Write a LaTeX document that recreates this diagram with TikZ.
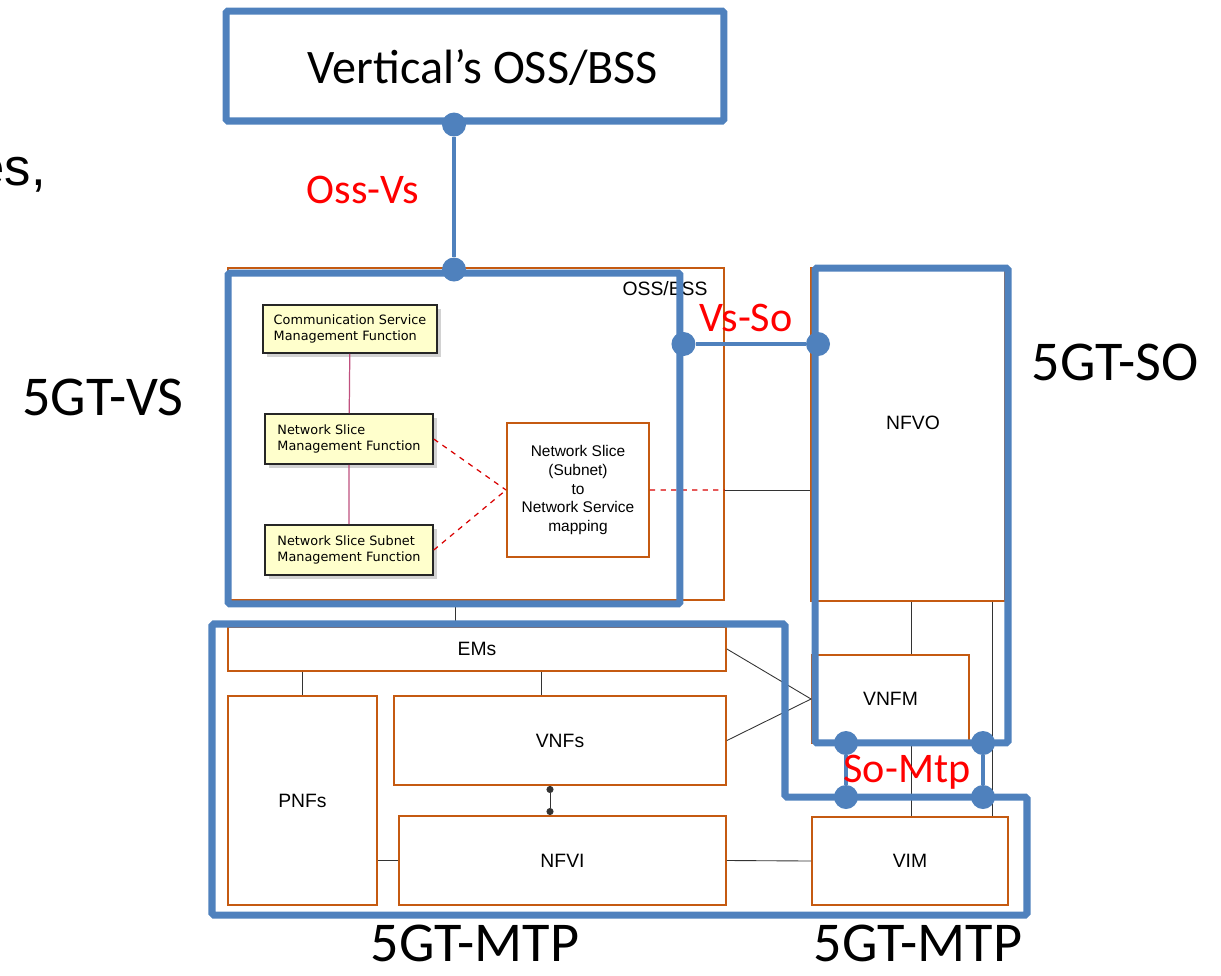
\documentclass[tikz,border=0pt]{standalone}
\usepackage{fontspec}
\setmainfont{Liberation Sans}
\newfontfamily\calibrifont{Carlito}
\newfontfamily\verdanafont{DejaVu Sans}
\usetikzlibrary{positioning, arrows.meta, shadows}
\definecolor{sliceblue}{HTML}{4F81BD}
\definecolor{etsiorange}{HTML}{C55A11}
\definecolor{notepink}{HTML}{C0507F}
\definecolor{noteyellow}{HTML}{FFFFCC}

\tikzset{
  fnbox/.style={draw=etsiorange, line width=1.1pt, fill=white, inner sep=0pt,
    font=\fontsize{11}{13}\selectfont},
  mgmtbox/.style={draw=black!85, line width=0.9pt, fill=noteyellow, inner sep=0pt,
    drop shadow={shadow xshift=2pt, shadow yshift=-2pt, fill=black!35},
    align=left, font=\verdanafont\fontsize{7.3}{9}\selectfont},
  gtdomain/.style={draw=sliceblue, line width=4pt, rounded corners=1pt, inner sep=0pt},
  iface/.style={draw=sliceblue, line width=2.8pt},
  ifdot/.style={circle, fill=sliceblue, inner sep=0pt, minimum size=0.48cm},
  iflabel/.style={text=red, font=\calibrifont\fontsize{24}{28}\selectfont},
  biglabel/.style={font=\calibrifont\fontsize{32}{36}\selectfont},
  wire/.style={draw=black!80, line width=0.5pt},
}

\begin{document}
\begin{tikzpicture}[x=0.02cm, y=-0.02cm]
  \useasboundingbox (0,0) rectangle (1221,975);

  % orange ETSI blocks
  \node[fnbox, minimum width=9.92cm, minimum height=6.64cm] (oss) at (476,434) {};
  \node[fnbox, minimum width=3.88cm, minimum height=6.66cm] (nfvo) at (908,434.5) {};
  \node at (913,423) {\fontsize{11}{13}\selectfont NFVO};
  \node[fnbox, minimum width=3.14cm, minimum height=1.76cm] (vnfm) at (890.5,699) {VNFM};
  \node[fnbox, minimum width=3.92cm, minimum height=1.76cm] (vim) at (910,861) {VIM};
  \node[fnbox, minimum width=9.96cm, minimum height=0.88cm] (ems) at (477,649) {EMs};
  \node[fnbox, minimum width=2.98cm, minimum height=4.18cm] (pnfs) at (302.5,800.5) {PNFs};
  \node[fnbox, minimum width=6.64cm, minimum height=1.78cm] (vnfs) at (560,740.5) {VNFs};
  \node[fnbox, minimum width=6.54cm, minimum height=1.78cm] (nfvi) at (562.5,860.5) {NFVI};
  \node[font=\fontsize{11}{13}\selectfont] (osslbl) at (665,289) {OSS/BSS};

  % slice management inside OSS/BSS
  \node[mgmtbox, minimum width=3.48cm, minimum height=0.96cm] (csmf) at (350,329)
    {Communication Service\\Management Function};
  \node[mgmtbox, minimum width=3.36cm, minimum height=1cm] (nsmf) at (349,439)
    {Network Slice\\Management Function};
  \node[mgmtbox, minimum width=3.36cm, minimum height=1cm] (nssmf) at (349,550)
    {Network Slice Subnet\\Management Function};
  \node[fnbox, minimum width=2.84cm, minimum height=2.68cm, align=center,
    font=\fontsize{8.8}{10.6}\selectfont] (map) at (578,490)
    {Network Slice\\(Subnet)\\to\\Network Service\\mapping};

  \draw[notepink, line width=0.7pt] (csmf) -- (nsmf) (nsmf) -- (nssmf);
  \draw[red!85!black, dashed, line width=0.7pt] (nsmf.east) -- (map.west)
    (nssmf.east) -- (map.west) (map.east) -- (oss.east |- map.east);
  \draw[wire] (oss.east |- map.east) -- (nfvo.west |- map.east);

  % reference points between blocks
  \draw[wire] (oss.south -| 455,0) -- (ems.north -| 455,0);
  \draw[wire] (pnfs.north |- ems.south) -- (pnfs.north);
  \draw[wire] ([xshift=-0.38cm]vnfs.north) -- ([xshift=-0.38cm]vnfs.north |- ems.south);
  \draw[wire, {Circle[length=4pt]}-{Circle[length=4pt]}] ([xshift=-0.2cm]vnfs.south)
    -- ([xshift=-0.2cm]vnfs.south |- nfvi.north);
  \draw[wire] (pnfs.east |- nfvi.west) -- (nfvi.west);
  \draw[wire] (nfvi.east) -- (vim.west);
  \draw[wire] (ems.east) -- (vnfm.west) -- (vnfs.east);
  \draw[wire] ([xshift=0.41cm]vnfm.north) -- ([xshift=0.41cm]vnfm.north |- nfvo.south);
  \draw[wire] ([xshift=0.41cm]vnfm.south) -- ([xshift=0.41cm]vnfm.south |- vim.north);
  \draw[wire] ([xshift=1.64cm]vim.north) -- ([xshift=1.64cm]vim.north |- nfvo.south);

  % 5G-TRANSFORMER domains
  \node[gtdomain, minimum width=9.96cm, minimum height=2.2cm] (vert) at (475,66) {};
  \node[font=\calibrifont\fontsize{27.4}{31}\selectfont] (vertlbl) at (483,68) {Vertical’s OSS/BSS};
  \node[gtdomain, minimum width=9.04cm, minimum height=6.62cm] (vs) at (454,438.5) {};
  \node[gtdomain, minimum width=3.86cm, minimum height=9.5cm] (so) at (911.5,505.5) {};
  \coordinate (mtpA) at (212,624);
  \coordinate (mtpB) at (785,624);
  \coordinate (mtpC) at (785,797);
  \coordinate (mtpD) at (1027,797);
  \coordinate (mtpE) at (1027,915);
  \coordinate (mtpF) at (212,915);
  \draw[gtdomain] (mtpA) -- (mtpB) -- (mtpC) -- (mtpD) -- (mtpE) -- (mtpF) -- cycle;

  % interfaces
  \node[ifdot] (ossvsA) at (vs.north |- vert.south) {};
  \node[ifdot] (ossvsB) at (vs.north) {};
  \draw[iface] (ossvsA) -- (ossvsB);
  \node[ifdot] (vssoA) at (vs.east |- 0,344) {};
  \node[ifdot] (vssoB) at (818,344) {};
  \draw[iface] (vssoA) -- (vssoB);
  \node[ifdot] (somtpA) at (846,743) {};
  \node[ifdot] (somtpB) at (983,743) {};
  \node[ifdot] (somtpC) at (846,797) {};
  \node[ifdot] (somtpD) at (983,797) {};
  \draw[iface] (somtpA) -- (somtpC) (somtpB) -- (somtpD);

  \node[iflabel] (ossvslbl) at (363,190) {Oss-Vs};
  \node[iflabel] (vssolbl) at (746,318) {Vs-So};
  \node[iflabel] (somtplbl) at (907,772) {So-Mtp};

  % domain names
  \node[biglabel] (vslbl) at (103,397) {5GT-VS};
  \node[biglabel] (solbl) at (1115,362) {5GT-SO};
  \node[biglabel, anchor=base] (mtplblA) at (475,961) {5GT-MTP};
  \node[biglabel, anchor=base] (mtplblB) at (918,961) {5GT-MTP};
  \node[font=\fontsize{30}{34}\selectfont, anchor=base east] (cut) at (52,185) {es,};
\end{tikzpicture}
\end{document}
